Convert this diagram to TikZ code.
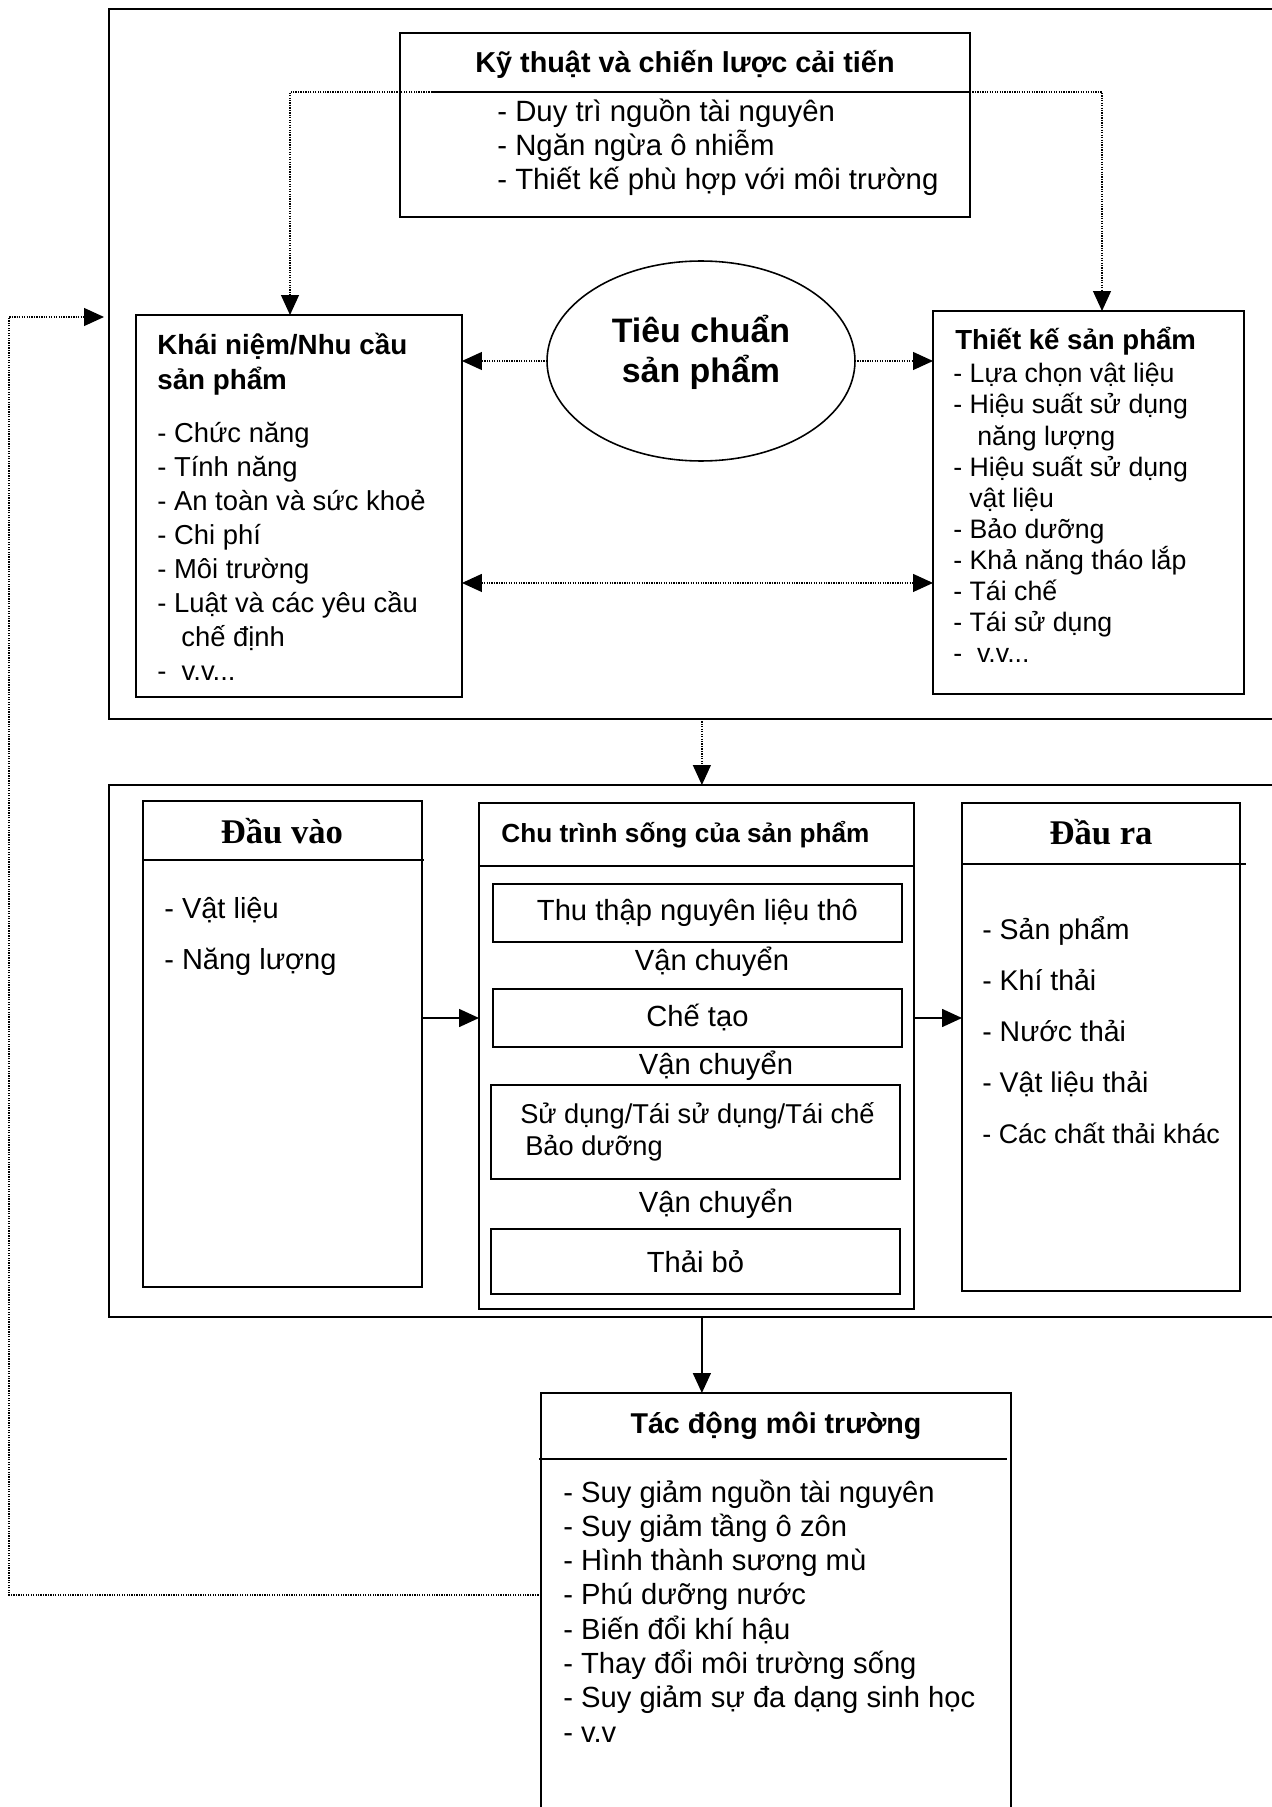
\documentclass[tikz,border=0pt]{standalone}
\usepackage{fontspec}
\setmainfont{Liberation Sans}
\newfontfamily\tnr{Liberation Serif}
\usepackage{tikz}
\usetikzlibrary{calc,arrows.meta,positioning,shapes.geometric}
\newcommand\fsz[1]{\fontsize{#1}{#1}\selectfont}
\newcommand\etc{v.v...}
\tikzset{
  >={Triangle[length=4mm,width=3.6mm]},
  box/.style={draw,line width=1.1pt,rectangle,anchor=north west,inner sep=0pt,outer sep=0pt},
  hd/.style={line width=1.1pt},
  tx/.style={anchor=base west,inner sep=0pt,font=\fsz{16.5}},
  tt/.style={anchor=base west,inner sep=0pt,font=\bfseries\fsz{16}},
  ar/.style={->,line width=0.9pt},
  dar/.style={->,line width=0.7pt,dash pattern=on 0.7pt off 0.7pt}
}

\begin{document}
\begin{tikzpicture}[x=0.02cm,y=-0.02cm]
\useasboundingbox (0,0) rectangle (1271,1807);
% upper part
\node[box,minimum width=23.72cm,minimum height=14.2cm] (topframe) at (109,9) {};
\node[box,minimum width=11.4cm,minimum height=3.68cm] (ktbox) at (400,33) {};
\draw[hd] (432,92) -- (970,92);
\coordinate (hdL) at (432,92);
\coordinate (hdR) at (970,92);
\node[tt,anchor=base,font=\bfseries\fsz{16.4}] (ktT) at (685,73) {Kỹ thuật và chiến lược cải tiến};
\foreach \t [count=\i from 0] in {Duy trì nguồn tài nguyên,Ngăn ngừa ô nhiễm,Thiết kế phù hợp với môi trường}
  \node[tx,font=\fsz{16.7}] (kt\i) at (497,122+34*\i) {- \t};

\node[box,minimum width=6.52cm,minimum height=7.64cm] (knbox) at (136,315) {};
\node[tt,font=\bfseries\fsz{15.8}] (knT1) at (157,355) {Khái niệm/Nhu cầu};
\node[tt,font=\bfseries\fsz{15.8}] (knT2) at (157,390) {sản phẩm};
\foreach \t [count=\i from 0] in {- Chức năng,- Tính năng,- An toàn và sức khoẻ,- Chi phí,- Môi trường,- Luật và các yêu cầu,\hspace{0.48cm}chế định,-\ \ \etc}
  \node[tx,font=\fsz{15.6}] (kn\i) at (157,442+34*\i) {\t};

\node[draw,ellipse,line width=0.9pt,minimum width=6.16cm,minimum height=4cm,inner sep=0pt,outer sep=0pt] (tcsp) at (701,361) {};
\node[anchor=base,inner sep=0pt,font=\bfseries\fsz{19.3}] (tcsp1) at (701,343) {Tiêu chuẩn};
\node[anchor=base,inner sep=0pt,font=\bfseries\fsz{19.3}] (tcsp2) at (701,383) {sản phẩm};

\node[box,minimum width=6.22cm,minimum height=7.66cm] (tkbox) at (933,311) {};
\node[tt,font=\bfseries\fsz{15.7}] (tkT) at (955,350) {Thiết kế sản phẩm};
\foreach \t [count=\i from 0] in {- Lựa chọn vật liệu,- Hiệu suất sử dụng,\hspace{0.48cm}năng lượng,- Hiệu suất sử dụng,\hspace{0.32cm}vật liệu,- Bảo dưỡng,- Khả năng tháo lắp,- Tái chế,- Tái sử dụng,-\ \ \etc}
  \node[tx,font=\fsz{15.2}] (tk\i) at (953,383+31*\i) {\t};

\draw[dar] (hdL) -| ($(knbox.north west)+(154,0)$);
\draw[dar] (hdR) -| ($(tkbox.north west)+(169,0)$);
\draw[dar] (tcsp.west) -- (tcsp.west -| knbox.east);
\draw[dar] (tcsp.east) -- (tcsp.east -| tkbox.west);
\coordinate (dd) at ($(knbox.east)+(0,77)$);
\draw[dar,<->] (dd) -- (dd -| tkbox.west);

% life cycle
\node[box,minimum width=23.72cm,minimum height=10.64cm] (lowframe) at (109,785) {};
\draw[dar] (topframe.south) -- (lowframe.north);

\node[box,minimum width=5.58cm,minimum height=9.72cm] (dvbox) at (143,801) {};
\draw[hd] (143,860) -- (424,860);
\node[anchor=base,inner sep=0pt,font=\tnr\bfseries\fsz{19.7}] (dvT) at (282,843) {Đầu vào};
\node[tx] (dv1) at (164,918) {- Vật liệu};
\node[tx] (dv2) at (164,969) {- Năng lượng};

\node[box,minimum width=8.7cm,minimum height=10.12cm] (ctbox) at (479,803) {};
\draw[hd] (479,866) -- (914,866);
\node[tt,font=\bfseries\fsz{14.9}] (ctT) at (501,842) {Chu trình sống của sản phẩm};
\node[box,minimum width=8.18cm,minimum height=1.16cm,font=\fsz{16.6}] (thu) at (493,884) {Thu thập nguyên liệu thô};
\node[box,minimum width=8.18cm,minimum height=1.16cm,font=\fsz{16.6}] (che) at (493,989) {Chế tạo};
\node[box,minimum width=8.18cm,minimum height=1.88cm,align=left,font={\fontsize{15.5}{18.2}\selectfont}] (sd) at (491,1085) {\hspace{0.08cm}Sử dụng/Tái sử dụng/Tái chế\\\hspace{0.18cm}Bảo dưỡng};
\node[box,minimum width=8.18cm,minimum height=1.3cm,font=\fsz{16.6}] (thai) at (491,1229) {Thải bỏ};
\node[anchor=base,inner sep=0pt,font=\fsz{16.6}] (vc1) at (712,970) {Vận chuyển};
\node[anchor=base,inner sep=0pt,font=\fsz{16.6}] (vc2) at (716,1074) {Vận chuyển};
\node[anchor=base,inner sep=0pt,font=\fsz{16.6}] (vc3) at (716,1212) {Vận chuyển};

\node[box,minimum width=5.56cm,minimum height=9.76cm] (drbox) at (962,803) {};
\draw[hd] (962,864) -- (1246,864);
\node[anchor=base,inner sep=0pt,font=\tnr\bfseries\fsz{19.7}] (drT) at (1101,844) {Đầu ra};
\foreach \t [count=\i from 0] in {Sản phẩm,Khí thải,Nước thải,Vật liệu thải}
  \node[tx,font=\fsz{16.2}] (dr\i) at (982,939+51*\i) {- \t};
\node[tx,font=\fsz{15.3}] (dr4) at (982,1143) {- Các chất thải khác};

\draw[ar] (che -| dvbox.east) -- (che -| ctbox.west);
\draw[ar] (che -| ctbox.east) -- (che -| drbox.west);

% impact
\node[box,minimum width=9.4cm,minimum height=8.74cm] (tdbox) at (541,1393) {};
\draw[hd] (539,1459) -- (1007,1459);
\node[anchor=base,inner sep=0pt,font=\bfseries\fsz{16.3}] (tdT) at (776,1433) {Tác động môi trường};
\foreach \t [count=\i from 0] in {Suy giảm nguồn tài nguyên,Suy giảm tầng ô zôn,Hình thành sương mù,Phú dưỡng nước,Biến đổi khí hậu,Thay đổi môi trường sống,Suy giảm sự đa dạng sinh học,v.v}
  \node[tx,font=\fsz{16.6}] (td\i) at (563,1502+34.3*\i) {- \t};
\draw[ar] (lowframe.south) -- (lowframe.south |- tdbox.north);

\coordinate (fb) at (9,317);
\draw[dar,shorten >=1mm] ($(tdbox.north west)+(0,202)$) -| (fb) -- ($(topframe.north west)+(0,308)$);
\end{tikzpicture}
\end{document}
